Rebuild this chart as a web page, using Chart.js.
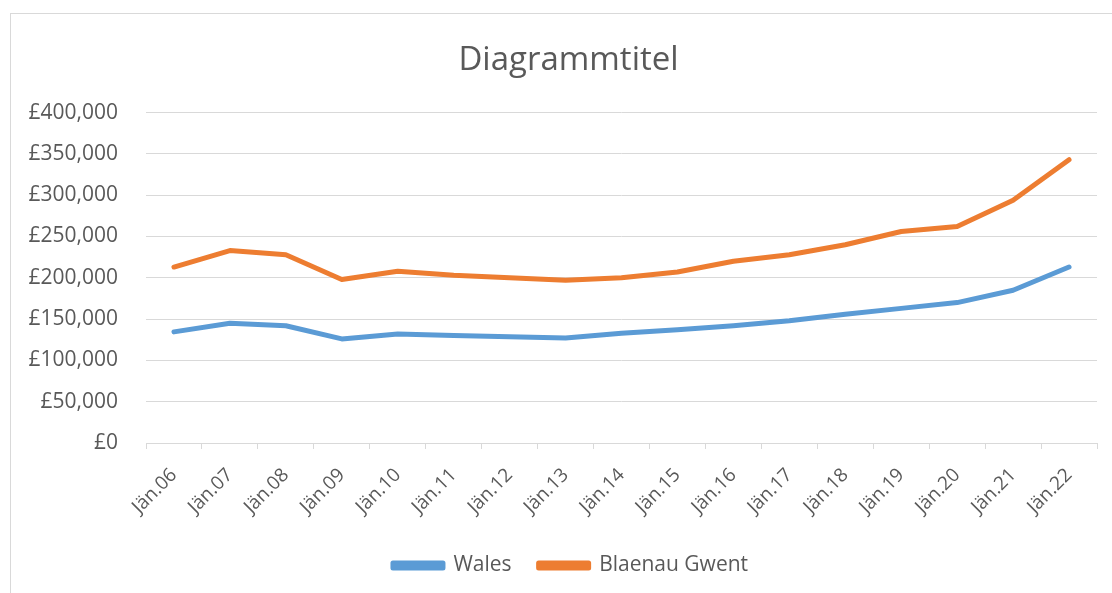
<!DOCTYPE html>
<html>
<head>
<meta charset="utf-8">
<script src="https://cdn.jsdelivr.net/npm/chart.js@4"></script>
<style>
  html, body { margin: 0; padding: 0; background: #fff; }
  #wrap { position: relative; width: 1112px; height: 593px; overflow: hidden; }
  #frame { position: absolute; left: 10px; top: 13px; width: 1110px; height: 600px; border: 1px solid #d9d9d9; box-sizing: border-box; }
  canvas { position: absolute; left: 0; top: 0; }
</style>
</head>
<body>
<div id="wrap">
  <div id="frame"></div>
  <canvas id="chart" width="1112" height="593"></canvas>
</div>
<script>
// Kategorien (Januar jedes Jahres)
const categories = ['Jän.06', 'Jän.07', 'Jän.08', 'Jän.09', 'Jän.10', 'Jän.11', 'Jän.12', 'Jän.13', 'Jän.14',
    'Jän.15', 'Jän.16', 'Jän.17', 'Jän.18', 'Jän.19', 'Jän.20', 'Jän.21', 'Jän.22'];

// Durchschnittspreise
const walesValues = [134500, 145000, 142000, 126000, 132000, 130000, 128500, 127000, 133000,
    137000, 142000, 148000, 156000, 163000, 170000, 185000, 213000];
const blaenauValues = [213000, 233000, 228000, 198000, 208000, 203000, 200000, 197000, 200000,
    207000, 220000, 228000, 240000, 256000, 262000, 294000, 343000];

const yMin = 0, yMax = 400000, yStep = 50000;

const fontFamily = '"Open Sans", Lato, sans-serif';
const textColor = '#595959';

Chart.defaults.font.family = fontFamily;
Chart.defaults.color = textColor;

// Titel und Legende etwas nach rechts schieben (wie im Original)
const shiftBoxes = {
    id: 'shiftBoxes',
    afterLayout(chart) {
        chart.titleBlock.left += 15;
        chart.titleBlock.right += 15;
        chart.legend.left += 17;
        chart.legend.right += 17;
    }
};

const ctx = document.getElementById('chart').getContext('2d');
new Chart(ctx, {
    type: 'line',
    data: {
        labels: categories,
        datasets: [{
            label: 'Wales',
            data: walesValues,
            borderColor: '#5B9BD5',
            backgroundColor: '#5B9BD5',
            borderWidth: 5,
            pointRadius: 0,
            tension: 0,
            borderCapStyle: 'round',
            borderJoinStyle: 'round'
        }, {
            label: 'Blaenau Gwent',
            data: blaenauValues,
            borderColor: '#ED7D31',
            backgroundColor: '#ED7D31',
            borderWidth: 5,
            pointRadius: 0,
            tension: 0,
            borderCapStyle: 'round',
            borderJoinStyle: 'round'
        }]
    },
    options: {
        responsive: false,
        animation: false,
        layout: { padding: { left: 10, right: 15, top: 13, bottom: 7 } },
        scales: {
            x: {
                offset: true,
                grid: {
                    offset: true,
                    drawOnChartArea: false,
                    color: '#d9d9d9',
                    tickLength: 6
                },
                border: { color: '#d9d9d9' },
                ticks: {
                    minRotation: 45,
                    maxRotation: 45,
                    font: { size: 19 },
                    color: textColor,
                    padding: 15
                },
                afterFit: scale => { scale.height = 85; }
            },
            y: {
                min: yMin,
                max: yMax,
                ticks: {
                    stepSize: yStep,
                    font: { size: 21 },
                    color: textColor,
                    padding: 28,
                    callback: v => '£' + v.toLocaleString('en-GB')
                },
                grid: { color: '#d9d9d9', drawTicks: false },
                border: { display: false },
                afterFit: scale => { scale.width = 136; }
            }
        },
        plugins: {
            title: {
                display: true,
                text: 'Diagrammtitel',
                font: { size: 33, weight: 'normal' },
                color: textColor,
                padding: { top: 28, bottom: 32 }
            },
            legend: {
                position: 'bottom',
                labels: {
                    boxWidth: 50,
                    boxHeight: 5,
                    font: { size: 21 },
                    color: textColor,
                    padding: 27
                }
            },
            tooltip: { enabled: false }
        }
    },
    plugins: [shiftBoxes]
});
</script>
</body>
</html>
